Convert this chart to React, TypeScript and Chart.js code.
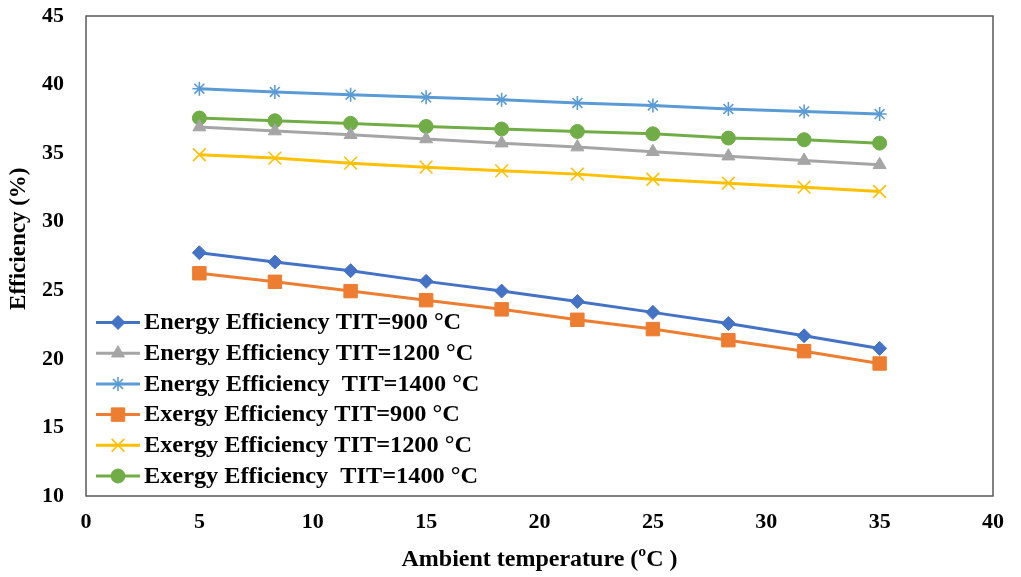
import React, { useEffect, useRef } from "react";
import { Chart, registerables } from "chart.js";
import { drawPoint } from "chart.js/helpers";

Chart.register(...registerables);

const ambientTemps = [5, 8.33, 11.67, 15, 18.33, 21.67, 25, 28.33, 31.67, 35];
const energy900 = [27.74, 27.06, 26.43, 25.65, 24.94, 24.18, 23.39, 22.58, 21.68, 20.76];
const energy1200 = [36.9, 36.61, 36.34, 36.03, 35.73, 35.44, 35.1, 34.78, 34.46, 34.15];
const energy1400 = [39.7, 39.46, 39.26, 39.07, 38.9, 38.66, 38.48, 38.22, 38.04, 37.85];
const exergy900 = [26.24, 25.62, 24.94, 24.28, 23.61, 22.85, 22.17, 21.36, 20.56, 19.66];
const exergy1200 = [34.88, 34.64, 34.27, 33.98, 33.71, 33.47, 33.1, 32.81, 32.52, 32.2];
const exergy1400 = [37.56, 37.36, 37.17, 36.95, 36.76, 36.58, 36.41, 36.1, 35.98, 35.73];

const seriesLabels = [
  "Energy Efficiency TIT=900 °C",
  "Energy Efficiency TIT=1200 °C",
  "Energy Efficiency  TIT=1400 °C",
  "Exergy Efficiency TIT=900 °C",
  "Exergy Efficiency TIT=1200 °C",
  "Exergy Efficiency  TIT=1400 °C",
];
const xTitle = "Ambient temperature (ºC )";
const yTitle = "Efficiency (%)";

const FONT = "'Liberation Serif', 'Times New Roman', serif";

const toPoints = (ys: number[]) => ys.map((y, i) => ({ x: ambientTemps[i], y }));

const frame = {
  id: "frame",
  beforeDatasetsDraw(chart: any) {
    const { ctx, chartArea } = chart;
    ctx.save();
    ctx.strokeStyle = "#595959";
    ctx.lineWidth = 1.5;
    ctx.strokeRect(chartArea.left, chartArea.top, chartArea.right - chartArea.left, chartArea.bottom - chartArea.top);
    ctx.restore();
  },
};

const insideLegend = {
  id: "insideLegend",
  afterDatasetsDraw(chart: any) {
    const { ctx, chartArea } = chart;
    const ds = chart.data.datasets;
    const n = ds.length;
    ctx.save();
    for (let i = 0; i < n; i++) {
      const d = ds[i];
      const y = chartArea.bottom - 20 - (n - 1 - i) * 30.7;
      const x0 = chartArea.left + 10;
      ctx.strokeStyle = d.borderColor;
      ctx.lineWidth = 3;
      ctx.beginPath();
      ctx.moveTo(x0, y);
      ctx.lineTo(x0 + 44, y);
      ctx.stroke();
      ctx.fillStyle = d.pointBackgroundColor;
      ctx.strokeStyle = d.pointBorderColor;
      ctx.lineWidth = d.pointBorderWidth;
      drawPoint(ctx, { pointStyle: d.pointStyle, rotation: 0, radius: d.pointRadius, borderWidth: d.pointBorderWidth }, x0 + 22, y);
      ctx.save();
      ctx.translate(chartArea.left + 58, y);
      ctx.scale(1.08, 1);
      ctx.font = `bold 22.5px ${FONT}`;
      ctx.fillStyle = "#000";
      ctx.textBaseline = "middle";
      ctx.textAlign = "left";
      ctx.fillText(d.label, 0, 1);
      ctx.restore();
    }
    ctx.restore();
  },
};

function mk(label: string, data: number[], color: string, style: string, radius: number, bw: number) {
  return {
    label,
    data: toPoints(data),
    borderColor: color,
    backgroundColor: color,
    borderWidth: 3,
    pointStyle: style,
    pointRadius: radius,
    pointHoverRadius: radius,
    pointBackgroundColor: color,
    pointBorderColor: color,
    pointBorderWidth: bw,
    tension: 0,
    fill: false,
  };
}

export default function App() {
  const ref = useRef<HTMLCanvasElement | null>(null);
  useEffect(() => {
    if (!ref.current) return;
    const chart = new Chart(ref.current, {
      type: "line",
      data: {
        datasets: [
          mk(seriesLabels[0], energy900, "#4472C4", "rectRot", 7, 1),
          mk(seriesLabels[1], energy1200, "#A5A5A5", "triangle", 7.5, 1),
          mk(seriesLabels[2], energy1400, "#5B9BD5", "star", 7, 1.6),
          mk(seriesLabels[3], exergy900, "#ED7D31", "rect", 9.5, 1),
          mk(seriesLabels[4], exergy1200, "#FFC000", "crossRot", 9, 1.6),
          mk(seriesLabels[5], exergy1400, "#70AD47", "circle", 7, 1),
        ] as any,
      },
      options: {
        animation: false,
        responsive: false,
        maintainAspectRatio: false,
        layout: { padding: { top: 16, right: 28, left: 0, bottom: 0 } },
        plugins: {
          legend: { display: false },
          tooltip: { enabled: false },
        },
        scales: {
          x: {
            type: "linear",
            min: 0,
            max: 40,
            grid: { display: false, drawTicks: false },
            border: { display: false },
            ticks: {
              stepSize: 5,
              padding: 13,
              color: "#000",
              font: { family: FONT, size: 22, weight: "bold" },
            },
            title: {
              display: true,
              text: xTitle,
              color: "#000",
              font: { family: FONT, size: 24, weight: "bold" },
              padding: { top: 0, bottom: 3 },
            },
            afterFit: (s: any) => {
              s.height = 81;
              s.paddingLeft = 0;
              s.paddingRight = 0;
            },
          },
          y: {
            min: 10,
            max: 45,
            grid: { display: false, drawTicks: false },
            border: { display: false },
            ticks: {
              stepSize: 5,
              padding: 22,
              color: "#000",
              font: { family: FONT, size: 22, weight: "bold" },
            },
            title: {
              display: true,
              text: "      " + yTitle,
              color: "#000",
              font: { family: FONT, size: 23, weight: "bold" },
              padding: { top: 5, bottom: 0 },
            },
            afterFit: (s: any) => {
              s.width = 86;
              s.paddingTop = 0;
              s.paddingBottom = 0;
            },
          },
        },
      } as any,
      plugins: [frame, insideLegend],
    });
    return () => chart.destroy();
  }, []);
  return (
    <div style={{ position: "absolute", left: 0, top: 0, width: 1021, height: 577, background: "#fff" }}>
      <canvas ref={ref} width={1021} height={577} style={{ width: 1021, height: 577, display: "block" }} />
    </div>
  );
}
